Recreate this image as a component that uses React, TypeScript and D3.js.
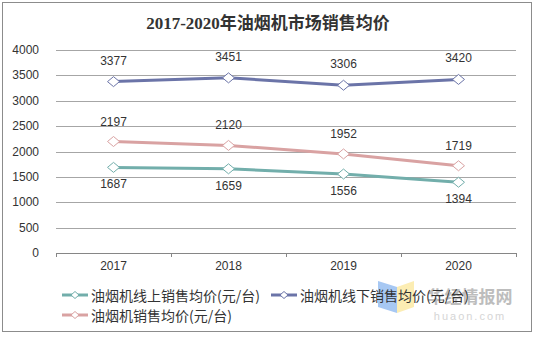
import React from "react";
import * as d3 from "d3";

const years = ["2017", "2018", "2019", "2020"];
const onlinePrice = [1687, 1659, 1556, 1394];
const offlinePrice = [3377, 3451, 3306, 3420];
const totalPrice = [2197, 2120, 1952, 1719];
const yTicks = [0, 500, 1000, 1500, 2000, 2500, 3000, 3500, 4000];
const seriesNames = ["油烟机线上销售均价(元/台)", "油烟机线下销售均价(元/台)", "油烟机销售均价(元/台)"];
const title = "2017-2020年油烟机市场销售均价";

const W = 535;
const H = 337;

export default function App() {
  const x = d3.scaleBand().domain(years).range([56, 516]);
  const y = d3.scaleLinear().domain([0, 4000]).range([253, 50]);
  const cx = (d: string) => (x(d) as number) + x.bandwidth() / 2;
  const line = d3
    .line<number>()
    .x((_, i) => cx(years[i]))
    .y((v) => y(v));

  const series = [
    { name: seriesNames[0], data: onlinePrice, color: "#72aeab", labelDy: 17 },
    { name: seriesNames[1], data: offlinePrice, color: "#6b74a8", labelDy: -21 },
    { name: seriesNames[2], data: totalPrice, color: "#d9a2a2", labelDy: -20 },
  ];

  const diamond = (px: number, py: number) =>
    `M${px - 6},${py} L${px},${py - 5} L${px + 6},${py} L${px},${py + 5} Z`;

  const font = "'Liberation Sans', Arial, 'Noto Sans CJK SC', sans-serif";
  const legendPos = [
    { lx: 62, ly: 295 },
    { lx: 271, ly: 295 },
    { lx: 62, ly: 315 },
  ];

  return (
    <svg width={W} height={H} style={{ position: "absolute", left: 0, top: 0 }}>
      <rect x={0} y={0} width={W} height={H} fill="#fff" />
      <rect x={2.5} y={2.5} width={529} height={329} fill="none" stroke="#8c8c8c" strokeWidth={1} />
      <text
        x={268}
        y={23}
        textAnchor="middle"
        dominantBaseline="central"
        fontFamily="'Liberation Serif', 'Noto Sans CJK SC', serif"
        fontWeight="bold"
        fontSize={17}
        fill="#333"
      >
        {title}
      </text>

      {yTicks.map((t) => (
        <g key={t}>
          {t > 0 && (
            <line x1={56} x2={516} y1={Math.round(y(t)) + 0.5} y2={Math.round(y(t)) + 0.5} stroke="#a6a6a6" />
          )}
          <text
            x={39}
            y={y(t)}
            textAnchor="end"
            dominantBaseline="central"
            fontFamily={font}
            fontSize={12}
            fill="#333"
          >
            {t}
          </text>
        </g>
      ))}
      <line x1={56} x2={516} y1={253.5} y2={253.5} stroke="#868686" />
      {[...years.map((d) => x(d) as number), 516].map((px, i) => (
        <line key={i} x1={Math.round(px) + 0.5} x2={Math.round(px) + 0.5} y1={253} y2={257} stroke="#868686" />
      ))}
      {years.map((d) => (
        <text
          key={d}
          x={cx(d)}
          y={266}
          textAnchor="middle"
          dominantBaseline="central"
          fontFamily={font}
          fontSize={12}
          fill="#333"
        >
          {d}
        </text>
      ))}

      {series.map((s) => (
        <g key={s.name}>
          <path d={line(s.data) || ""} fill="none" stroke={s.color} strokeWidth={3} />
          {s.data.map((v, i) => (
            <path key={i} d={diamond(cx(years[i]), y(v))} fill="#fff" stroke={s.color} strokeWidth={1} />
          ))}
          {s.data.map((v, i) => (
            <text
              key={"l" + i}
              x={cx(years[i])}
              y={y(v) + s.labelDy}
              textAnchor="middle"
              dominantBaseline="central"
              fontFamily={font}
              fontSize={12}
              fill="#333"
            >
              {v}
            </text>
          ))}
        </g>
      ))}

      {/* watermark */}
      <g opacity={0.75}>
        <polygon points="378,281 397,287 397,313 378,307" fill="#8ab6f0" />
        <polygon points="397,287 414,281 414,307 397,313" fill="#fbe79a" />
        <text x={470} y={295} textAnchor="middle" dominantBaseline="central" fontFamily="'Noto Sans CJK SC', sans-serif" fontWeight="bold" fontSize={17} fill="#a8a8a8">
          华经情报网
        </text>
        <text x={470} y={316} textAnchor="middle" dominantBaseline="central" fontFamily={font} fontSize={11} letterSpacing={2} fill="#c8c8c8">
          huaon.com
        </text>
      </g>

      {series.map((s, i) => {
        const { lx, ly } = legendPos[i];
        return (
          <g key={"lg" + i}>
            <line x1={lx} x2={lx + 26} y1={ly} y2={ly} stroke={s.color} strokeWidth={3} />
            <path d={`M${lx + 9},${ly} L${lx + 13},${ly - 3.5} L${lx + 17},${ly} L${lx + 13},${ly + 3.5} Z`} fill="#fff" stroke={s.color} />
            <text
              x={lx + 29}
              y={ly}
              dominantBaseline="central"
              fontFamily="'Noto Sans CJK SC', sans-serif"
              fontSize={14}
              fill="#333"
            >
              {s.name}
            </text>
          </g>
        );
      })}
    </svg>
  );
}
